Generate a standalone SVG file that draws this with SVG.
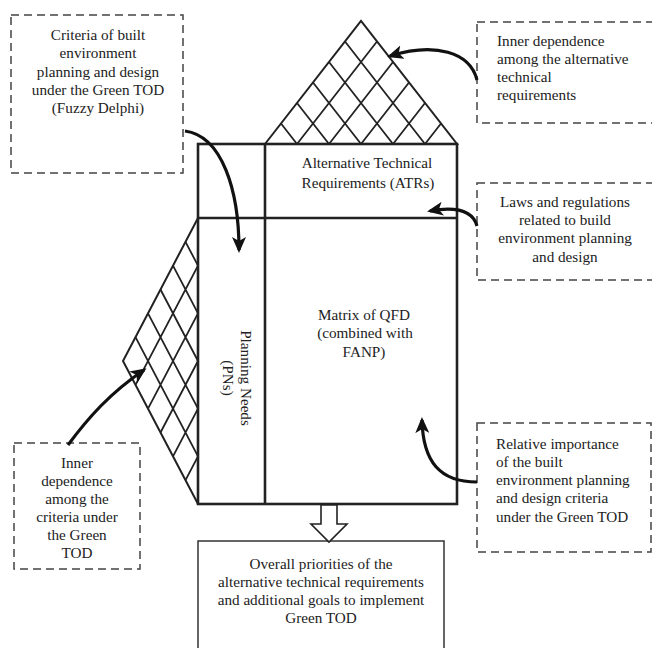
<svg xmlns="http://www.w3.org/2000/svg" width="652" height="648" viewBox="0 0 652 648">
<defs>
<style>
.t{font-family:"Liberation Serif","Times New Roman",serif;font-size:15.2px;fill:#222}
.c{text-anchor:middle}
.dash{fill:none;stroke:#444;stroke-width:1.5;stroke-dasharray:8 5}
.main{fill:none;stroke:#222;stroke-width:2.6}
.tri{fill:#fff;stroke:#222;stroke-width:2}
.lat{stroke:#222;stroke-width:1.8;fill:none}
.arr{fill:none;stroke:#111;stroke-width:3.2;marker-end:url(#ah)}
</style>
<marker id="ah" viewBox="0 0 16 14" markerWidth="16" markerHeight="14" refX="13" refY="7" orient="auto" markerUnits="userSpaceOnUse">
<path d="M0,0 L16,7 L0,14 L4,7 z" fill="#111"/>
</marker>
</defs>
<rect width="652" height="648" fill="#fff"/>

<g id="atr-roof">
<polygon class="tri" points="265,144 361,21 457,144"/>
<path class="lat" d="M297,144L377,41.5M329,144L393,62M361,144L409,82.5M393,144L425,103M425,144L441,123.5M297,144L281,123.5M329,144L297,103M361,144L313,82.5M393,144L329,62M425,144L345,41.5"/>
</g>

<g id="pn-roof">
<polygon class="tri" points="198,218 123,361 198,504"/>
<path class="lat" d="M198,265.67L135.5,384.83M198,313.33L148,408.67M198,361L160.5,432.5M198,408.67L173,456.33M198,456.33L185.5,480.17M198,265.67L185.5,241.83M198,313.33L173,265.67M198,361L160.5,289.5M198,408.67L148,313.33M198,456.33L135.5,337.17"/>
</g>

<g id="matrix">
<rect class="main" x="198" y="144" width="259" height="360"/>
<line class="main" x1="265" y1="144" x2="265" y2="504"/>
<line class="main" x1="198" y1="218" x2="457" y2="218"/>
<text class="t c" x="367" y="168">Alternative Technical</text>
<text class="t c" x="368" y="188">Requirements (ATRs)</text>
<text class="t c" x="364" y="320">Matrix of QFD</text>
<text class="t c" x="365" y="338">(combined with</text>
<text class="t c" x="364" y="357">FANP)</text>
<g transform="translate(241,378) rotate(90)">
<text class="t c" x="0" y="0">Planning Needs</text>
<text class="t c" x="0" y="18">(PNs)</text>
</g>
</g>

<g id="box-criteria">
<rect class="dash" x="11" y="15" width="172" height="158"/>
<text class="t c" x="98" y="40">Criteria of built</text>
<text class="t c" x="98" y="58">environment</text>
<text class="t c" x="98" y="77">planning and design</text>
<text class="t c" x="98" y="95">under the Green TOD</text>
<text class="t c" x="98" y="113">(Fuzzy Delphi)</text>
</g>

<g id="box-inner-atr">
<rect class="dash" x="477" y="22" width="190" height="101"/>
<text class="t" x="497" y="46">Inner dependence</text>
<text class="t" x="497" y="64">among the alternative</text>
<text class="t" x="497" y="82">technical</text>
<text class="t" x="497" y="100">requirements</text>
</g>

<g id="box-laws">
<rect class="dash" x="477" y="183" width="190" height="97"/>
<text class="t c" x="565" y="207">Laws and regulations</text>
<text class="t c" x="565" y="225">related to build</text>
<text class="t c" x="565" y="243">environment planning</text>
<text class="t c" x="565" y="262">and design</text>
</g>

<g id="box-relative">
<rect class="dash" x="477" y="423" width="174" height="129"/>
<text class="t" x="496" y="449">Relative importance</text>
<text class="t" x="496" y="467">of the built</text>
<text class="t" x="496" y="485">environment planning</text>
<text class="t" x="496" y="503">and design criteria</text>
<text class="t" x="496" y="522">under the Green TOD</text>
</g>

<g id="box-inner-pn">
<rect class="dash" x="14" y="443" width="126" height="126"/>
<text class="t c" x="77" y="468">Inner</text>
<text class="t c" x="77" y="486">dependence</text>
<text class="t c" x="77" y="504">among the</text>
<text class="t c" x="77" y="522">criteria under</text>
<text class="t c" x="77" y="540">the Green</text>
<text class="t c" x="77" y="558">TOD</text>
</g>

<g id="box-output">
<rect x="198" y="541" width="246" height="130" fill="none" stroke="#333" stroke-width="1.5"/>
<text class="t c" x="321" y="569">Overall priorities of the</text>
<text class="t c" x="321" y="587">alternative technical requirements</text>
<text class="t c" x="321" y="605">and additional goals to implement</text>
<text class="t c" x="321" y="623">Green TOD</text>
</g>

<g id="connectors">
<path class="arr" d="M185,131 C222,136 239,190 239,250"/>
<path class="arr" d="M477,80 C470,52 435,42 390,56"/>
<path class="arr" d="M477,226 C473,212 458,206 430,211"/>
<path class="arr" d="M477,482 C440,482 423,462 422,420"/>
<path class="arr" d="M68,445 C88,418 110,393 144,370"/>
<polygon points="321,505 337,505 337,524 347,524 329,542 311,524 321,524" fill="#fff" stroke="#222" stroke-width="1.6"/>
</g>
</svg>
